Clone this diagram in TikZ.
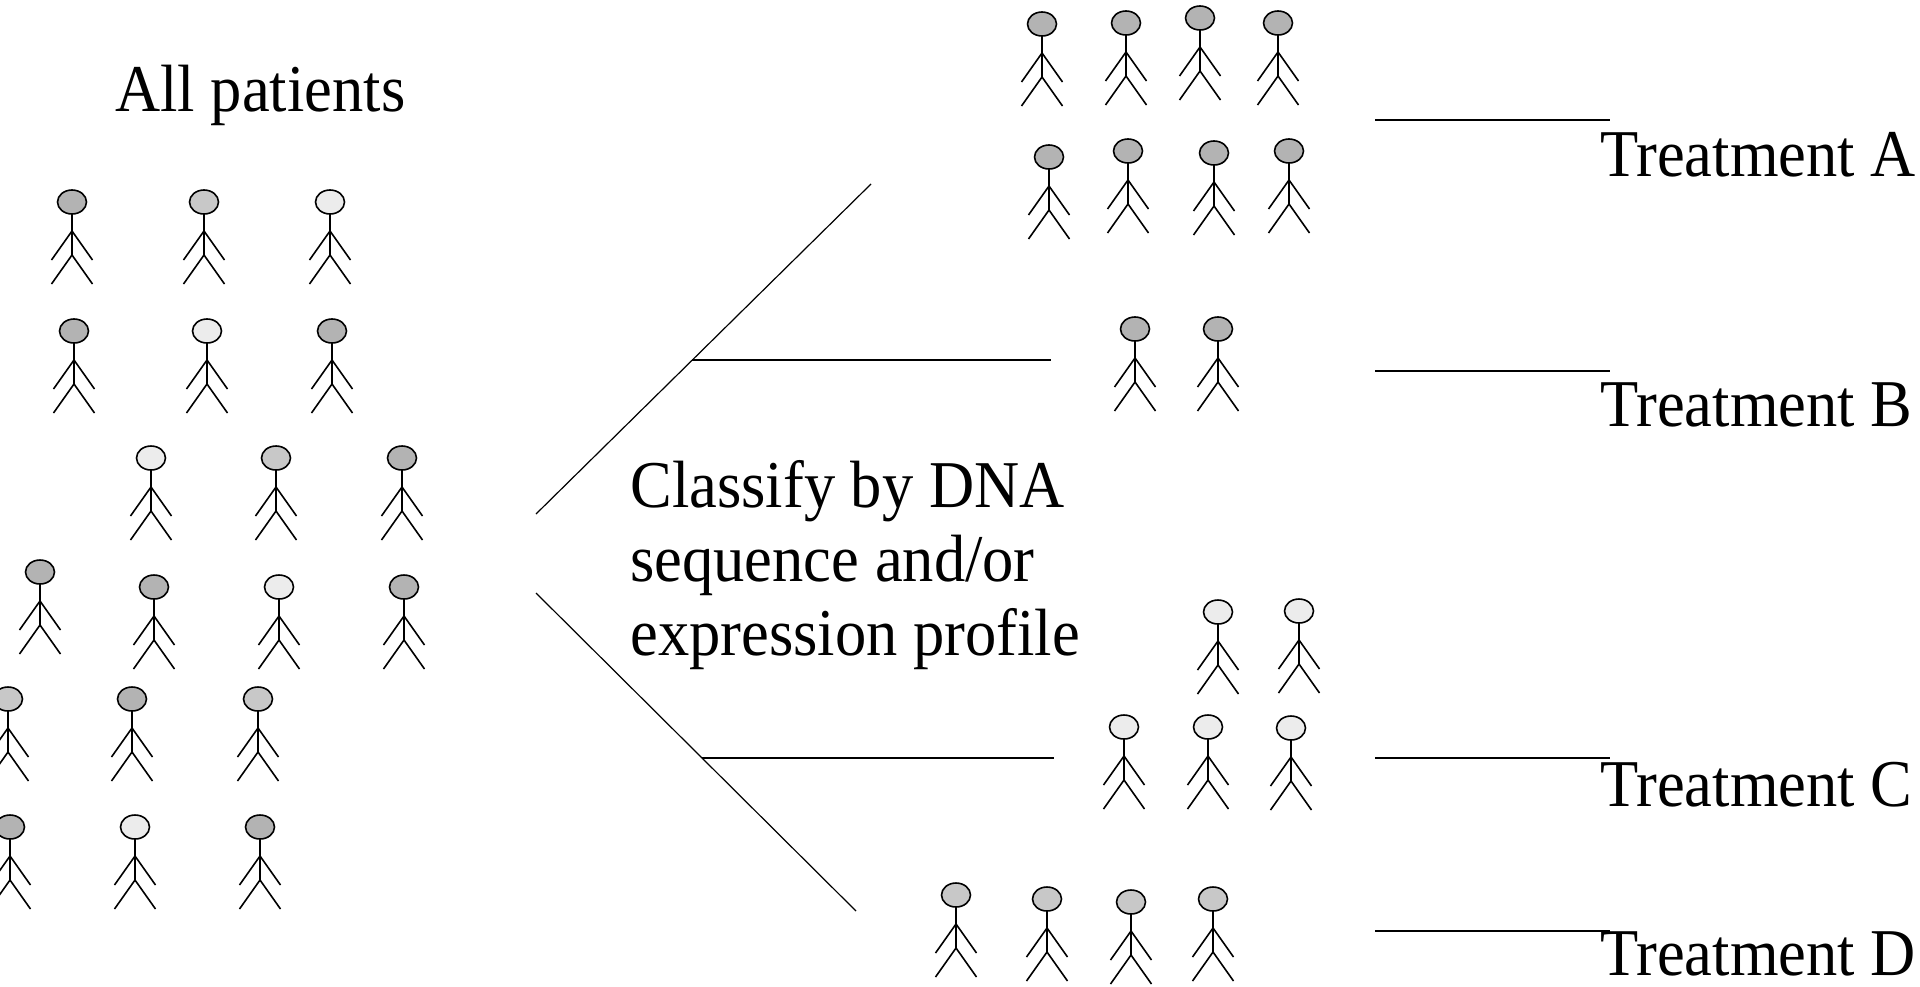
\documentclass[tikz,border=0pt]{standalone}
\usepackage{fontspec}
\setmainfont{Liberation Serif}
\usetikzlibrary{calc}

\definecolor{hdark}{HTML}{B3B3B3}
\definecolor{hmid}{HTML}{C8C8C8}
\definecolor{hlight}{HTML}{ECECEC}

% letters a little taller than the font draws them
\newcommand\tall[1]{\scalebox{1}[1.07]{#1}}

\begin{document}
\begin{tikzpicture}[x=0.5pt,y=-0.5pt,
  lbl/.style={anchor=base west,inner sep=0,font=\fontsize{31.25}{37}\selectfont},
  limb/.style={line width=0.8pt,black},
  branch/.style={line width=0.6pt,black},
  rung/.style={line width=0.9pt,black},
  pics/patient/.style={code={
    \draw[limb,fill=#1] (0,0) ellipse [x radius=14.5,y radius=12];
    \draw[limb] (0,12) -- (0,53) (-20.5,58) -- (0,29) -- (20.5,58)
                (-20.5,82) -- (0,53) -- (20.5,82);}}]
\useasboundingbox (0,0) rectangle (1920,986);

%% whole group before classification
\node[lbl] (allp) at (115,111) {\tall{All patients}};
\foreach \x/\y/\c in {72/202/hdark, 204/202/hmid, 330/202/hlight,
                      74/331/hdark, 207/331/hlight, 332/331/hdark,
                      151/458/hlight, 276/458/hmid, 402/458/hdark,
                      40/572/hdark, 154/587/hdark, 279/587/hlight, 404/587/hdark,
                      8/699/hmid, 132/699/hdark, 258/699/hmid,
                      10/827/hdark, 135/827/hlight, 260/827/hdark}
  \pic at (\x,\y) {patient=\c};

%% the split
\coordinate (up0) at (536,514);
\coordinate (up1) at (871,184);
\coordinate (dn0) at (536,593);
\coordinate (dn1) at (856,911);
\coordinate (bB) at (692,360);
\coordinate (bC) at (702,758);
\draw[branch] (up0) -- (up1);
\draw[branch] (dn0) -- (dn1);
\draw[rung] (bB) -- ++(359,0);
\draw[rung] (bC) -- ++(352,0);

%% base anchor sits on the last line here
\node[lbl,align=left] (classify) at (630,655)
  {\tall{Classify by DNA}\\\tall{sequence and/or}\\\tall{expression profile}};

%% subgroups
\foreach \x/\y in {1042/24, 1126/23, 1200/18, 1278/23,
                   1049/157, 1128/151, 1214/153, 1289/151,
                   1135/329, 1218/329}
  \pic at (\x,\y) {patient=hdark};
\foreach \x/\y in {1218/612, 1299/611, 1124/727, 1208/727, 1291/728}
  \pic at (\x,\y) {patient=hlight};
\foreach \x/\y in {956/895, 1047/899, 1131/902, 1213/899}
  \pic at (\x,\y) {patient=hmid};

%% treatments
\foreach \t/\y/\b in {A/120/176, B/371/426, C/758/806, D/931/975}{
  \coordinate (r\t) at (1375,\y);
  \draw[rung] (r\t) -- ++(235,0);
  \node[lbl] (tr\t) at (1600,\b) {\tall{Treatment \t}};
}
\end{tikzpicture}
\end{document}
